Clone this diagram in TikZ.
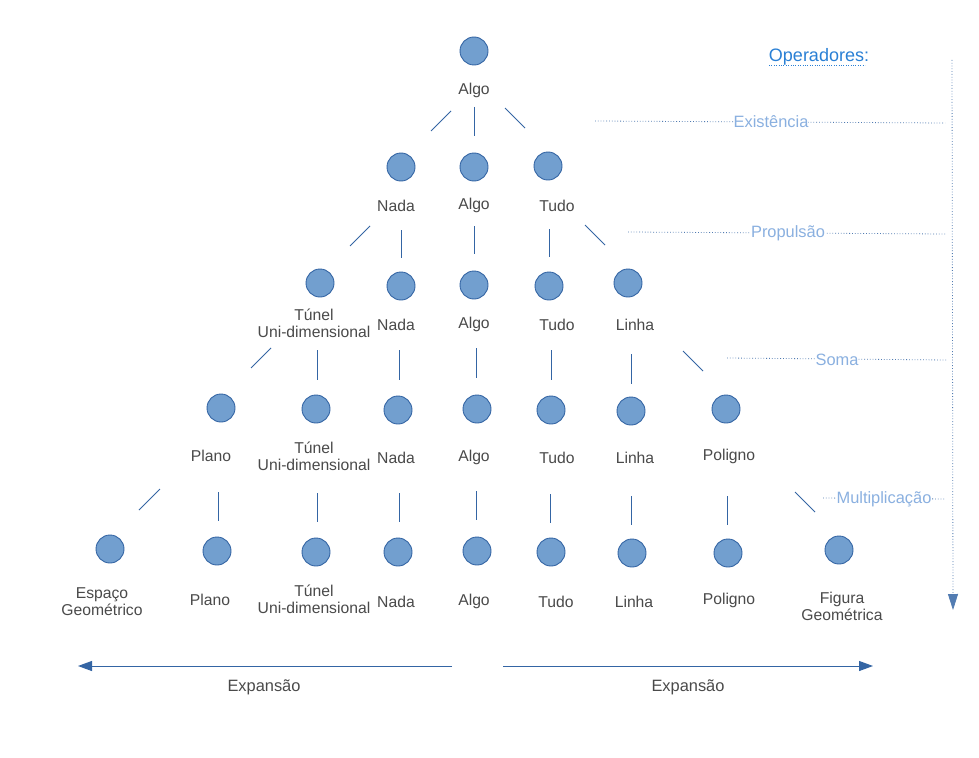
\documentclass[tikz,border=0pt]{standalone}
\usepackage{fontspec}
\setmainfont{Liberation Sans}
\usetikzlibrary{arrows.meta}
\definecolor{cfill}{HTML}{729FCF}
\definecolor{cline}{HTML}{3465A4}
\definecolor{ctext}{HTML}{4A4A4A}
\definecolor{copl}{HTML}{8AB0E0}
\definecolor{ctitle}{HTML}{2A80D5}
\newcommand\mkseg[3]{\coordinate (#1a) at (#2); \coordinate (#1b) at (#3); \draw[conn] (#1a) -- (#1b);}
\begin{document}
\begin{tikzpicture}[x=1pt,y=-1pt,
 dot/.style={circle,minimum size=28pt,inner sep=0pt,fill=cfill,draw=cline,line width=0.9pt},
 lbl/.style={text=ctext,font=\fontsize{15.7}{17}\selectfont,align=center,inner sep=0pt,yshift=-1.5pt},
 conn/.style={draw=cline,line width=1pt},
 op/.style={text=copl,font=\fontsize{16.4}{18}\selectfont,fill=white,inner sep=0pt,yshift=-1pt},
 guide/.style={draw=cline!85,line width=0.8pt,dash pattern=on 0.8pt off 2pt},
 tip/.style={-{Triangle[length=14pt,width=10pt]}},
 ]
\useasboundingbox[fill=white] (0,0) rectangle (979,757);
% row 0
\node[dot] (c0) at (474,51) {};
\node[lbl] (t0) at (474,89) {Algo};
\mkseg{s01}{431,131}{451,111}
\mkseg{s02}{474,107}{474,136}
\mkseg{s03}{505,108}{525,128}
% row 1
\node[dot] (c1a) at (401,167) {}; \node[lbl] (t1a) at (396,204) {Nada};
\node[dot] (c1b) at (474,167) {}; \node[lbl] (t1b) at (474,204) {Algo};
\node[dot] (c1c) at (548,166) {}; \node[lbl] (t1c) at (557,204) {Tudo};
\mkseg{s11}{350,246}{370,226}
\mkseg{s12}{401,230}{401,258}
\mkseg{s13}{474,226}{474,254}
\mkseg{s14}{549,229}{549,257}
\mkseg{s15}{585,225}{605,245}
% row 2
\node[dot] (c2a) at (320,283) {}; \node[lbl] (t2a) at (314,322) {Túnel\\Uni-dimensional};
\node[dot] (c2b) at (401,286) {}; \node[lbl] (t2b) at (396,323) {Nada};
\node[dot] (c2c) at (474,285) {}; \node[lbl] (t2c) at (474,323) {Algo};
\node[dot] (c2d) at (549,286) {}; \node[lbl] (t2d) at (557,323) {Tudo};
\node[dot] (c2e) at (628,283) {}; \node[lbl] (t2e) at (635,323) {Linha};
\mkseg{s21}{251,368}{271,348}
\mkseg{s22}{317,350}{317,380}
\mkseg{s23}{399,350}{399,380}
\mkseg{s24}{476,348}{476,378}
\mkseg{s25}{551,350}{551,380}
\mkseg{s26}{631,354}{631,384}
\mkseg{s27}{683,351}{703,371}
% row 3
\node[dot] (c3a) at (221,408) {}; \node[lbl] (t3a) at (211,454) {Plano};
\node[dot] (c3b) at (316,409) {}; \node[lbl] (t3b) at (314,455) {Túnel\\Uni-dimensional};
\node[dot] (c3c) at (398,410) {}; \node[lbl] (t3c) at (396,456) {Nada};
\node[dot] (c3d) at (477,409) {}; \node[lbl] (t3d) at (474,456) {Algo};
\node[dot] (c3e) at (551,410) {}; \node[lbl] (t3e) at (557,456) {Tudo};
\node[dot] (c3f) at (631,411) {}; \node[lbl] (t3f) at (635,456) {Linha};
\node[dot] (c3g) at (726,409) {}; \node[lbl] (t3g) at (729,455) {Poligno};
\mkseg{s31}{139,510}{160,489}
\mkseg{s32}{218,492}{218,521}
\mkseg{s33}{317,493}{317,522}
\mkseg{s34}{399,493}{399,522}
\mkseg{s35}{476,491}{476,520}
\mkseg{s36}{550,494}{550,523}
\mkseg{s37}{631,496}{631,525}
\mkseg{s38}{727,496}{727,525}
\mkseg{s39}{795,492}{815,512}
% row 4
\node[dot] (c4a) at (110,549) {}; \node[lbl] (t4a) at (102,600) {Espaço\\Geométrico};
\node[dot] (c4b) at (217,551) {}; \node[lbl] (t4b) at (210,598) {Plano};
\node[dot] (c4c) at (316,552) {}; \node[lbl] (t4c) at (314,598) {Túnel\\Uni-dimensional};
\node[dot] (c4d) at (398,552) {}; \node[lbl] (t4d) at (396,600) {Nada};
\node[dot] (c4e) at (477,551) {}; \node[lbl] (t4e) at (474,600) {Algo};
\node[dot] (c4f) at (551,552) {}; \node[lbl] (t4f) at (556,600) {Tudo};
\node[dot] (c4g) at (632,553) {}; \node[lbl] (t4g) at (634,600) {Linha};
\node[dot] (c4h) at (728,553) {}; \node[lbl] (t4h) at (729,599) {Poligno};
\node[dot] (c4i) at (839,550) {}; \node[lbl] (t4i) at (842,605) {Figura\\Geométrica};
% expansion arrows
\coordinate (la) at (452,666); \coordinate (lb) at (78,666);
\draw[conn,tip] (la) -- (lb);
\node[lbl,font=\fontsize{16.4}{18}\selectfont] (e1) at (264,686) {Expansão};
\coordinate (ra) at (503,666); \coordinate (rb) at (873,666);
\draw[conn,tip] (ra) -- (rb);
\node[lbl,font=\fontsize{16.4}{18}\selectfont] (e2) at (688,686) {Expansão};
% operators
\node[text=ctitle,font=\fontsize{18}{20}\selectfont,inner sep=0pt,yshift=-1pt] (opt) at (819,56) {Operadores:};
\coordinate (ua) at (769,65); \coordinate (ub) at (865,65);
\draw[draw=ctitle,line width=0.8pt,dash pattern=on 0.8pt off 1.6pt] (ua) -- (ub);
\coordinate (va) at (952,60); \coordinate (vb) at (953,610);
\draw[guide,-{Triangle[length=16pt,width=10pt]}] (va) -- (vb);
\coordinate (g1a) at (595,121); \coordinate (g1b) at (945,123);
\draw[guide] (g1a) -- (g1b);
\node[op] (o1) at (771,121) {Existência};
\coordinate (g2a) at (628,232); \coordinate (g2b) at (945,234);
\draw[guide] (g2a) -- (g2b);
\node[op] (o2) at (788,232) {Propulsão};
\coordinate (g3a) at (727,358); \coordinate (g3b) at (946,360);
\draw[guide] (g3a) -- (g3b);
\node[op] (o3) at (837,359) {Soma};
\coordinate (g4a) at (823,498); \coordinate (g4b) at (946,499);
\draw[guide] (g4a) -- (g4b);
\node[op] (o4) at (884,498) {Multiplicação};
\end{tikzpicture}
\end{document}
